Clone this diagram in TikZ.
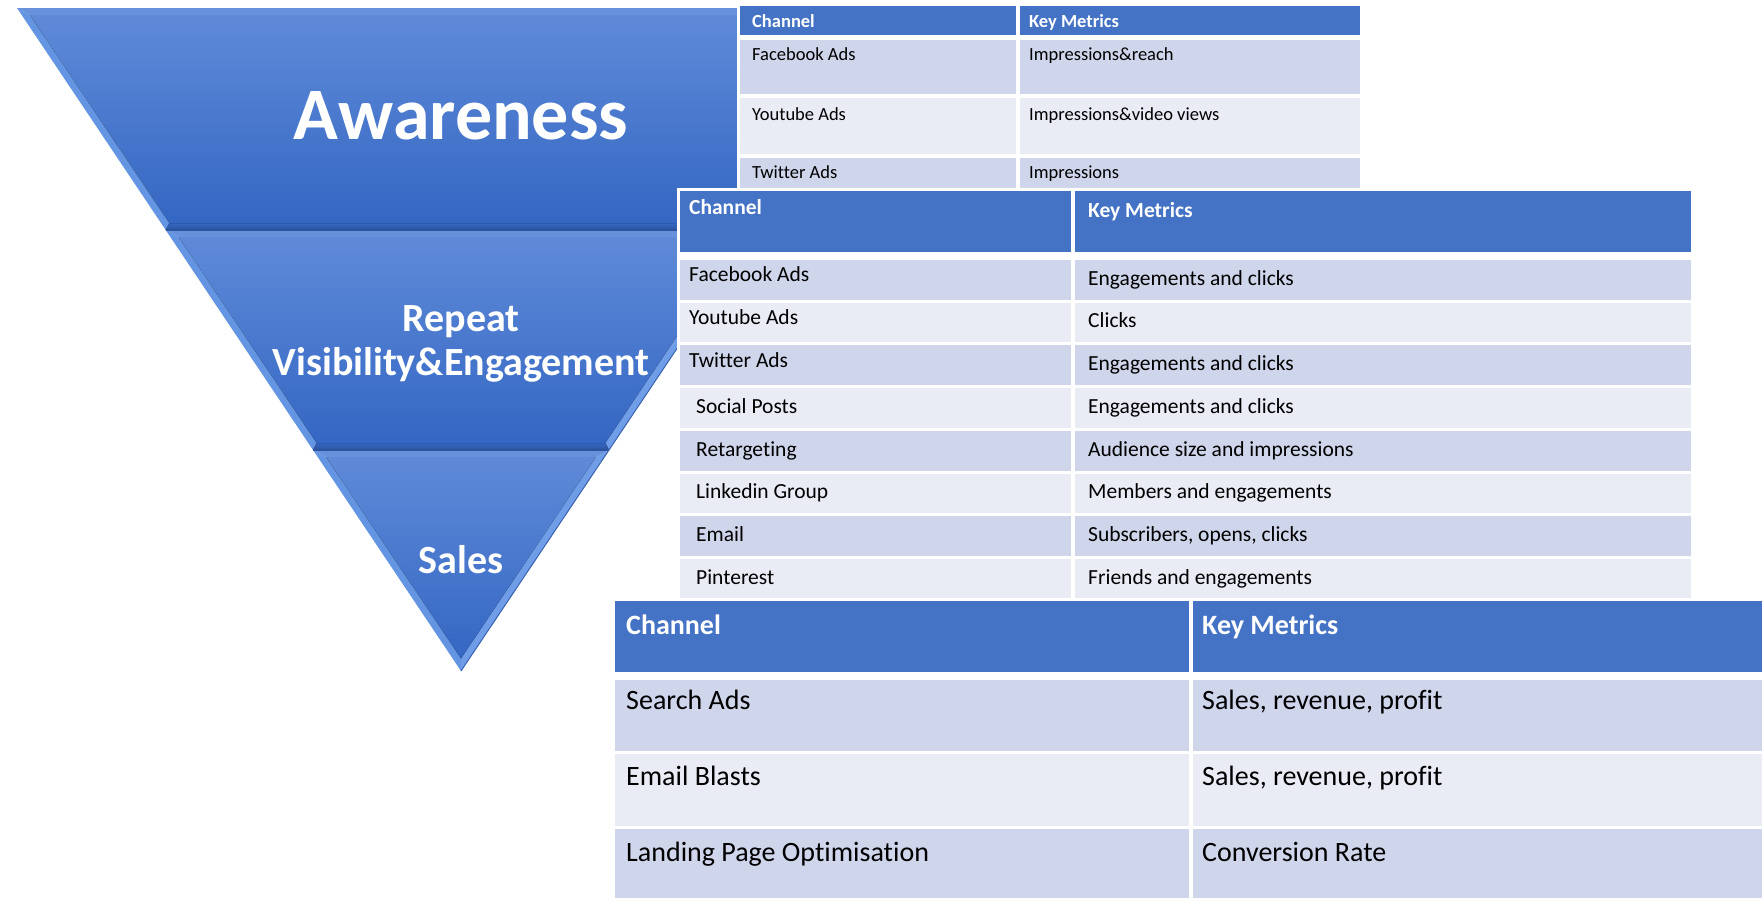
\documentclass[tikz,border=0pt]{standalone}
\usepackage{fontspec}
\setmainfont{Carlito}[Ligatures=NoCommon]
\definecolor{hdrblue}{HTML}{4472C4}
\definecolor{rowdark}{HTML}{CFD5EA}
\definecolor{rowlight}{HTML}{E9EBF5}
\definecolor{fuTop}{HTML}{5F8AD8}
\definecolor{fuBot}{HTML}{3467C3}
\definecolor{bevL}{HTML}{6395E2}
\definecolor{bevR}{HTML}{6F9DE8}
\definecolor{bevT}{HTML}{6891DB}
\definecolor{bevB}{HTML}{2C549E}
\definecolor{edge}{HTML}{3B62AE}
\begin{document}
\begin{tikzpicture}[x=1pt,y=-1pt,
  inner/.style={top color=fuTop,bottom color=fuBot},
  lbev/.style={fill=bevL},
  rbev/.style={fill=bevR},
  tbev/.style={fill=bevT},
  bbev/.style={top color=fuBot,bottom color=bevB},
  stage/.style={text=white,font=\bfseries,inner sep=0pt,align=center},
  hdr/.style={fill=hdrblue},
  rowA/.style={fill=rowdark},
  rowB/.style={fill=rowlight},
  cellone/.style={inner sep=0pt,anchor=mid west,font=\fontsize{18.5}{22}\selectfont},
  headone/.style={cellone,text=white,font=\fontsize{18.5}{22}\selectfont\bfseries},
  celltwo/.style={inner sep=0pt,anchor=mid west,font=\fontsize{21.5}{25}\selectfont},
  headtwo/.style={celltwo,text=white,font=\fontsize{21.5}{25}\selectfont\bfseries},
  cellthree/.style={inner sep=0pt,anchor=mid west,font=\fontsize{28}{32}\selectfont},
  headthree/.style={cellthree,text=white,font=\fontsize{28}{32}\selectfont\bfseries}]
\useasboundingbox (0,0) rectangle (1762,898);

% ---------- funnel: Awareness ----------
\fill[lbev] (17,8) -- (30.1,15) -- (169.4,223) -- (165.7,230) -- cycle;
\fill[rbev] (905,8) -- (891.9,15) -- (752.6,223) -- (756.3,230) -- cycle;
\fill[tbev] (17,8) -- (905,8) -- (891.9,15) -- (30.1,15) -- cycle;
\fill[bbev] (165.7,230) -- (756.3,230) -- (752.6,223) -- (169.4,223) -- cycle;
\fill[inner] (30.1,15) -- (891.9,15) -- (752.6,223) -- (169.4,223) -- cycle;

% ---------- funnel: Repeat Visibility ----------
\fill[lbev] (165.7,230) -- (178.8,237) -- (316.7,443) -- (313,450) -- cycle;
\fill[rbev] (756.3,230) -- (743.2,237) -- (605.3,443) -- (609,450) -- cycle;
\fill[tbev] (165.7,230) -- (756.3,230) -- (743.2,237) -- (178.8,237) -- cycle;
\fill[bbev] (313,450) -- (609,450) -- (605.3,443) -- (316.7,443) -- cycle;
\fill[inner] (178.8,237) -- (743.2,237) -- (605.3,443) -- (316.7,443) -- cycle;

% ---------- funnel: Sales ----------
\fill[lbev] (313,450) -- (326.1,457) -- (461,658.4) -- (461,671) -- cycle;
\fill[rbev] (609,450) -- (595.9,457) -- (461,658.4) -- (461,671) -- cycle;
\fill[tbev] (313,450) -- (609,450) -- (595.9,457) -- (326.1,457) -- cycle;
\fill[inner] (326.1,457) -- (595.9,457) -- (461,658.4) -- cycle;

% outer shading lines of the funnel
\draw[bevB,line width=1.6pt] (165.7,230) -- (756.3,230);
\draw[bevB,line width=1.6pt] (313,450) -- (609,450);
\draw[edge,line width=1pt] (905,8) -- (461,671);

\node[stage,font=\fontsize{74}{84}\selectfont\bfseries] (aware) at (461,116) {Awareness};
\node[stage,font=\fontsize{40}{44}\selectfont\bfseries] (repeat) at (461,344) {Repeat\\Visibility\&Engagement};
\node[stage,font=\fontsize{40}{44}\selectfont\bfseries] (sales) at (461,560) {Sales};

% ---------- table 1: awareness channels ----------
\fill[white] (737,3) rectangle (1363,192);
\fill[hdr] (740,6) rectangle (1016,35);
\fill[hdr] (1020,6) rectangle (1360,35);
\fill[rowA] (740,40) rectangle (1016,94);
\fill[rowA] (1020,40) rectangle (1360,94);
\fill[rowB] (740,98) rectangle (1016,154);
\fill[rowB] (1020,98) rectangle (1360,154);
\fill[rowA] (740,158) rectangle (1016,192);
\fill[rowA] (1020,158) rectangle (1360,192);
\node[headone] (t1h1) at (752,25) {Channel};
\node[headone] (t1h2) at (1029,25) {Key Metrics};
\node[cellone] (t1a1) at (752,58.5) {Facebook Ads};
\node[cellone] (t1a2) at (1029,58.5) {Impressions\&reach};
\node[cellone] (t1b1) at (752,118) {Youtube Ads};
\node[cellone] (t1b2) at (1029,118) {Impressions\&video views};
\node[cellone] (t1c1) at (752,176.5) {Twitter Ads};
\node[cellone] (t1c2) at (1029,176.5) {Impressions};

% ---------- table 2: engagement channels ----------
\fill[white] (677,188) rectangle (1694,602);
\fill[hdr] (680,191) rectangle (1071,252);
\fill[hdr] (1075,191) rectangle (1691,252);
\foreach \i/\sty in {0/rowA,1/rowB,2/rowA,3/rowB,4/rowA,5/rowB,6/rowA,7/rowB}{
  \fill[\sty] (680,260+42.7*\i) rectangle (1071,299.7+42.7*\i);
  \fill[\sty] (1075,260+42.7*\i) rectangle (1691,299.7+42.7*\i);
}
\node[headtwo] (t2h1) at (689,212.5) {Channel};
\node[headtwo] (t2h2) at (1088,215.5) {Key Metrics};
\node[celltwo] (t2a1) at (689,279.5) {Facebook Ads};
\node[celltwo] (t2a2) at (1088,283) {Engagements and clicks};
\node[celltwo] (t2b1) at (689,322.5) {Youtube Ads};
\node[celltwo] (t2b2) at (1088,325.5) {Clicks};
\node[celltwo] (t2c1) at (689,365.5) {Twitter Ads};
\node[celltwo] (t2c2) at (1088,368.5) {Engagements and clicks};
\node[celltwo] (t2d1) at (696,411) {Social Posts};
\node[celltwo] (t2d2) at (1088,411) {Engagements and clicks};
\node[celltwo] (t2e1) at (696,454) {Retargeting};
\node[celltwo] (t2e2) at (1088,454) {Audience size and impressions};
\node[celltwo] (t2f1) at (696,496.5) {Linkedin Group};
\node[celltwo] (t2f2) at (1088,496.5) {Members and engagements};
\node[celltwo] (t2g1) at (696,539.5) {Email};
\node[celltwo] (t2g2) at (1088,539.5) {Subscribers, opens, clicks};
\node[celltwo] (t2h3) at (696,582.5) {Pinterest};
\node[celltwo] (t2h4) at (1088,582.5) {Friends and engagements};

% ---------- table 3: sales channels ----------
\fill[white] (612,598) rectangle (1762,898);
\fill[hdr] (615,601) rectangle (1189,672);
\fill[hdr] (1193,601) rectangle (1762,672);
\fill[rowA] (615,680) rectangle (1189,751);
\fill[rowA] (1193,680) rectangle (1762,751);
\fill[rowB] (615,754) rectangle (1189,826);
\fill[rowB] (1193,754) rectangle (1762,826);
\fill[rowA] (615,829) rectangle (1189,898);
\fill[rowA] (1193,829) rectangle (1762,898);
\node[headthree] (t3h1) at (626,632) {Channel};
\node[headthree] (t3h2) at (1202,632) {Key Metrics};
\node[cellthree] (t3a1) at (626,707) {Search Ads};
\node[cellthree] (t3a2) at (1202,707) {Sales, revenue, profit};
\node[cellthree] (t3b1) at (626,783) {Email Blasts};
\node[cellthree] (t3b2) at (1202,783) {Sales, revenue, profit};
\node[cellthree] (t3c1) at (626,859) {Landing Page Optimisation};
\node[cellthree] (t3c2) at (1202,859) {Conversion Rate};
\end{tikzpicture}
\end{document}
